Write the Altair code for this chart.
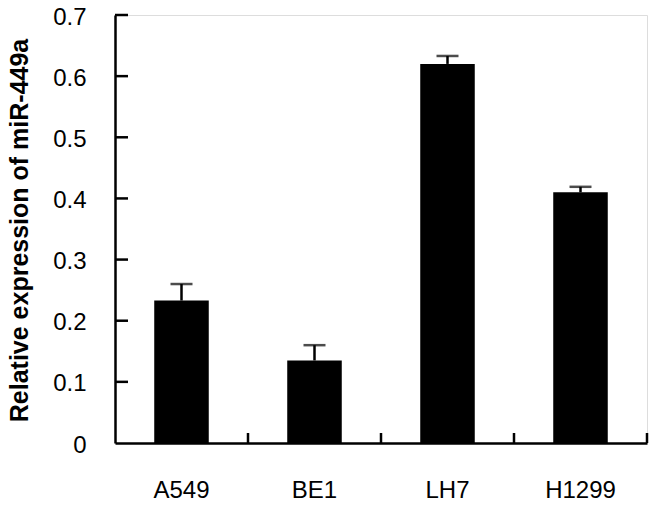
import altair as alt
import pandas as pd

cells = ["A549", "BE1", "LH7", "H1299"]
means = [0.233, 0.135, 0.620, 0.410]
errs = [0.027, 0.025, 0.013, 0.009]
y_tick_values = [0.1, 0.2, 0.3, 0.4, 0.5, 0.6, 0.7]
y_label_values = [0, 0.1, 0.2, 0.3, 0.4, 0.5, 0.6, 0.7]
band_start_ticks = ["BE1", "LH7", "H1299"]
band_end_ticks = ["H1299"]

df = pd.DataFrame({"cell": cells, "mean": means,
                   "upper": [m + e for m, e in zip(means, errs)]})
yt = pd.DataFrame({"v": y_tick_values})
xs = pd.DataFrame({"cell": band_start_ticks})
xe = pd.DataFrame({"cell": band_end_ticks})

W, H = 532, 428
xscale = alt.Scale(domain=cells, paddingInner=0, paddingOuter=0)
yscale = alt.Scale(domain=[0, 0.7], nice=False, zero=True)

FONT = "Liberation Sans"
xaxis = alt.Axis(title=None, ticks=False, tickSize=0, labelPadding=35,
                 labelFontSize=24, labelFont=FONT, labelColor="black",
                 labelAngle=0, domainColor="black", domainWidth=2.5, grid=False)
yaxis = alt.Axis(title="Relative expression of miR-449a", values=y_label_values,
                 format=".1~f", ticks=False, tickSize=0, labelPadding=29,
                 labelOffset=2,
                 labelFontSize=24, labelFont=FONT, labelColor="black",
                 domainColor="black", domainWidth=2.5, grid=False,
                 titleFont=FONT, titleFontSize=25, titleFontWeight="bold",
                 titleColor="black", titleAngle=270, titleBaseline="middle",
                 titleX=-96, titleY=H / 2 + 1)

X = lambda **kw: alt.X("cell:N", scale=xscale, sort=cells, axis=xaxis, **kw)

bars = alt.Chart(df).mark_bar(color="black", width=alt.RelativeBandSize(0.41)).encode(
    x=X(),
    y=alt.Y("mean:Q", scale=yscale, axis=yaxis),
)
err = alt.Chart(df).mark_rule(color="black", strokeWidth=2.5).encode(
    x=X(),
    y=alt.Y("mean:Q", scale=yscale, axis=yaxis),
    y2="upper:Q",
)
caps = alt.Chart(df).mark_tick(color="black", orient="horizontal", size=22, thickness=2.5).encode(
    x=X(),
    y=alt.Y("upper:Q", scale=yscale, axis=yaxis),
)
yticks = alt.Chart(yt).mark_rule(color="black", strokeWidth=2.5).encode(
    y=alt.Y("v:Q", scale=yscale, axis=yaxis),
    x=alt.value(0), x2=alt.value(13),
)
xticks1 = alt.Chart(xs).mark_rule(color="black", strokeWidth=2.5).encode(
    x=X(bandPosition=0),
    y=alt.value(H), y2=alt.value(H - 10),
)
xticks2 = alt.Chart(xe).mark_rule(color="black", strokeWidth=2.5).encode(
    x=X(bandPosition=1),
    y=alt.value(H), y2=alt.value(H - 10),
)

chart = alt.layer(bars, err, caps, yticks, xticks1, xticks2).properties(
    width=W, height=H,
    autosize=alt.AutoSizeParams(type="none"),
    padding={"left": 107, "top": 7, "right": 6, "bottom": 58},
).configure_view(stroke=None).configure(background="white")

chart.save("out.html", embed_options={"renderer": "svg", "actions": False})
